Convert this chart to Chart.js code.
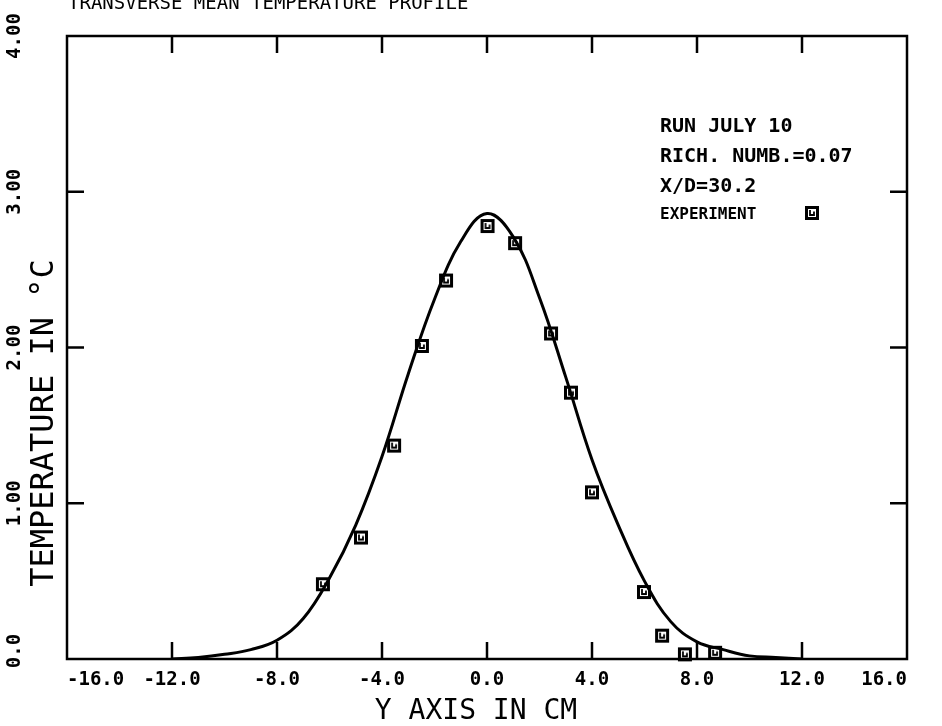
<!DOCTYPE html>
<html lang="en">

<head>
    <meta charset="UTF-8">
    <title>Transverse Mean Temperature Profile</title>
    <script src="https://cdn.jsdelivr.net/npm/chart.js"></script>
    <style>
        html, body {
            margin: 0;
            padding: 0;
            background: #ffffff;
        }

        #wrap {
            width: 942px;
            height: 726px;
        }
    </style>
</head>

<body>
    <div id="wrap"><canvas id="profileChart" width="942" height="726"></canvas></div>

    <script>
        // fitted curve (Y in cm, T in deg C)
        const curveY = [-12, -11, -10, -9, -8, -7, -6, -5, -4, -3, -2, -1, 0, 1, 2, 3, 4, 5, 6, 7, 8, 9, 10, 11, 12];
        const curveT = [0.00, 0.01, 0.03, 0.06, 0.12, 0.26, 0.52, 0.86, 1.30, 1.83, 2.31, 2.68, 2.86, 2.71, 2.32, 1.81, 1.28, 0.86, 0.50, 0.24, 0.11, 0.06, 0.02, 0.01, 0.00];

        // experiment points
        const expY = [-6.25, -4.80, -3.54, -2.48, -1.56, 0.02, 1.07, 2.44, 3.20, 4.00, 5.98, 6.67, 7.54, 8.69];
        const expT = [0.48, 0.78, 1.37, 2.01, 2.43, 2.78, 2.67, 2.09, 1.71, 1.07, 0.43, 0.15, 0.03, 0.04];

        const yTickLabels = ['0.0', '1.00', '2.00', '3.00', '4.00'];
        const infoLines = ['RUN JULY 10', 'RICH. NUMB.=0.07', 'X/D=30.2'];

        const FONT = "'DejaVu Sans Mono', monospace";

        // square plotter marker with the little mark inside
        function makeMarker() {
            const c = document.createElement('canvas');
            c.width = 16;
            c.height = 16;
            const g = c.getContext('2d');
            g.strokeStyle = '#000';
            g.lineWidth = 3;
            g.strokeRect(2.5, 2.5, 11, 11);
            g.lineWidth = 1.8;
            g.beginPath();
            g.moveTo(6, 5);
            g.lineTo(6, 10);
            g.lineTo(10, 10);
            g.lineTo(10, 6.5);
            g.stroke();
            return c;
        }
        const marker = makeMarker();

        const L = 67, T = 36, R = 907, B = 659;

        const plotterPlugin = {
            id: 'plotter',
            afterDraw(chart) {
                const ctx = chart.ctx;
                const xs = chart.scales.x;
                const ys = chart.scales.y;
                const area = chart.chartArea;
                ctx.save();
                ctx.strokeStyle = '#000';
                ctx.fillStyle = '#000';
                ctx.lineWidth = 2.5;
                ctx.strokeRect(area.left, area.top, area.right - area.left, area.bottom - area.top);

                // inward ticks on all four sides
                const tick = 17;
                ctx.beginPath();
                xs.ticks.forEach((t, i) => {
                    if (i === 0 || i === xs.ticks.length - 1) return;
                    const px = xs.getPixelForValue(t.value);
                    ctx.moveTo(px, area.bottom);
                    ctx.lineTo(px, area.bottom - tick);
                    ctx.moveTo(px, area.top);
                    ctx.lineTo(px, area.top + tick);
                });
                ys.ticks.forEach((t, i) => {
                    if (i === 0 || i === ys.ticks.length - 1) return;
                    const py = ys.getPixelForValue(t.value);
                    ctx.moveTo(area.left, py);
                    ctx.lineTo(area.left + tick, py);
                    ctx.moveTo(area.right, py);
                    ctx.lineTo(area.right - tick, py);
                });
                ctx.stroke();

                // rotated y tick labels
                ctx.font = 'bold 19px ' + FONT;
                ctx.textAlign = 'center';
                ctx.textBaseline = 'middle';
                ys.ticks.forEach((t, i) => {
                    const py = ys.getPixelForValue(t.value);
                    ctx.save();
                    ctx.translate(15, i === 0 ? py - 8 : py);
                    ctx.rotate(-Math.PI / 2);
                    ctx.fillText(yTickLabels[i], 0, 0);
                    ctx.restore();
                });

                // axis titles
                ctx.font = '28px ' + FONT;
                ctx.textBaseline = 'alphabetic';
                ctx.fillText('Y AXIS IN CM', 476, 719);

                ctx.save();
                ctx.translate(53, 423);
                ctx.rotate(-Math.PI / 2);
                ctx.font = '32px ' + FONT;
                ctx.fillText('TEMPERATURE IN °C', 0, 0);
                ctx.restore();

                // header, clipped by the top edge
                ctx.textAlign = 'left';
                ctx.font = '19px ' + FONT;
                ctx.fillText('TRANSVERSE MEAN TEMPERATURE PROFILE', 68, 9);

                // run info block
                ctx.font = 'bold 20px ' + FONT;
                infoLines.forEach((s, i) => {
                    ctx.fillText(s, 660, 132 + i * 30);
                });
                ctx.font = 'bold 16px ' + FONT;
                ctx.fillText('EXPERIMENT', 660, 219);
                ctx.drawImage(marker, 812 - 8, 213 - 8);
                ctx.restore();
            }
        };

        const ctx = document.getElementById('profileChart').getContext('2d');
        new Chart(ctx, {
            type: 'scatter',
            data: {
                datasets: [
                    {
                        label: 'Fit',
                        data: curveY.map((y, i) => ({ x: y, y: curveT[i] })),
                        showLine: true,
                        borderColor: '#000',
                        borderWidth: 3,
                        pointRadius: 0,
                        tension: 0.4,
                        fill: false
                    },
                    {
                        label: 'EXPERIMENT',
                        data: expY.map((y, i) => ({ x: y, y: expT[i] })),
                        pointStyle: marker,
                        pointRadius: 8,
                        clip: false
                    }
                ]
            },
            options: {
                responsive: false,
                animation: false,
                layout: {
                    padding: { left: 0, top: T, right: 942 - R, bottom: 0 }
                },
                plugins: {
                    legend: { display: false },
                    tooltip: { enabled: false }
                },
                scales: {
                    x: {
                        type: 'linear',
                        min: -16,
                        max: 16,
                        afterFit: s => { s.height = 726 - B; },
                        grid: { display: false, drawTicks: false },
                        border: { display: false },
                        ticks: {
                            stepSize: 4,
                            padding: 10,
                            align: 'inner',
                            color: '#000',
                            font: { family: FONT, size: 19, weight: 'bold' },
                            callback: v => v.toFixed(1)
                        }
                    },
                    y: {
                        type: 'linear',
                        min: 0,
                        max: 4,
                        afterFit: s => { s.width = L; },
                        grid: { display: false, drawTicks: false },
                        border: { display: false },
                        ticks: { stepSize: 1, display: false }
                    }
                }
            },
            plugins: [plotterPlugin]
        });
    </script>
</body>

</html>
